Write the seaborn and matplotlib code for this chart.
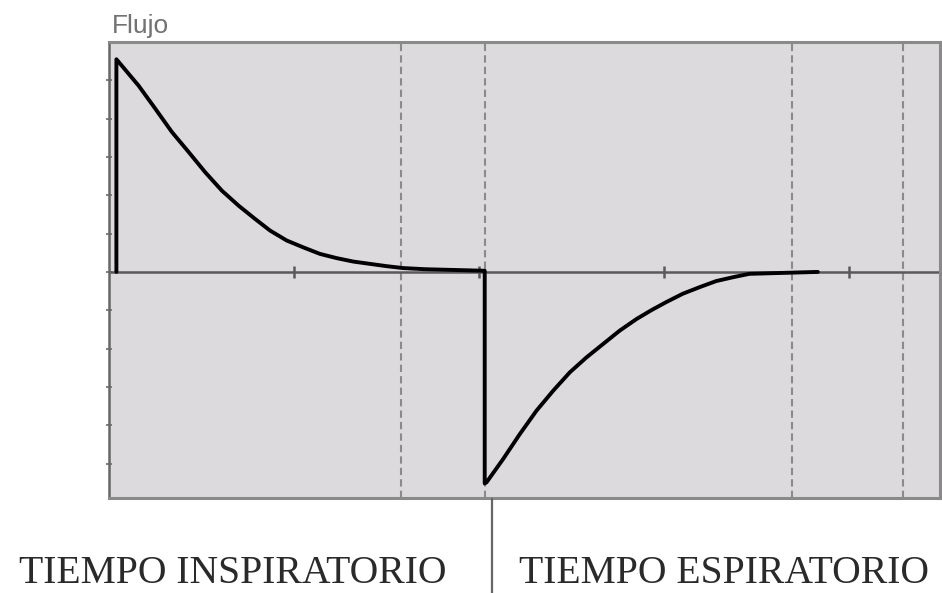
import matplotlib.pyplot as plt
import seaborn as sns
import pandas as pd
from matplotlib.lines import Line2D

# Curva de flujo (tiempo y flujo en unidades de la cuadrícula)
tiempo = [0.04, 0.04, 0.16, 0.25, 0.34, 0.43, 0.52, 0.61, 0.70, 0.79, 0.87, 0.96,
          1.05, 1.14, 1.23, 1.32, 1.41, 1.50, 1.59, 1.71, 2.03,
          2.03, 2.04, 2.13, 2.22, 2.31, 2.40, 2.49, 2.58, 2.67, 2.76, 2.85, 2.93,
          3.01, 3.10, 3.19, 3.28, 3.37, 3.46, 3.83]
flujo = [0.0, 5.55, 4.86, 4.26, 3.65, 3.13, 2.60, 2.12, 1.73, 1.38, 1.08, 0.82,
         0.64, 0.47, 0.36, 0.27, 0.21, 0.15, 0.10, 0.07, 0.03,
         -5.52, -5.49, -4.88, -4.23, -3.62, -3.10, -2.62, -2.23, -1.88, -1.53, -1.23, -1.00,
         -0.79, -0.57, -0.40, -0.24, -0.14, -0.05, 0.0]

lineas_guia = [1.58, 2.03, 3.69, 4.29]
marcas_x = [1, 2, 3, 4]
marcas_y = [-5, -4, -3, -2, -1, 0, 1, 2, 3, 4, 5]

df = pd.DataFrame({"tiempo": tiempo, "flujo": flujo})

sns.set_style("white")
fig = plt.figure(figsize=(9.42, 5.93), dpi=100)
ax = fig.add_axes([109 / 942, 1 - 498 / 593, 831 / 942, 456 / 593])
ax.set_facecolor("#dcdadd")

for x in lineas_guia:
    ax.axvline(x, color="#8a8a8a", lw=1.5, dashes=(3.5, 2))
ax.axhline(0, color="#5a5a5a", lw=1.8, zorder=2)
ax.plot(marcas_x, [0] * len(marcas_x), ls="none", marker="|", ms=9, mew=1.8,
        color="#5a5a5a", zorder=2)

sns.lineplot(data=df, x="tiempo", y="flujo", sort=False, estimator=None,
             color="black", lw=2.8, ax=ax, zorder=3,
             solid_joinstyle="round", solid_capstyle="round")

ax.set_xlim(0, 4.49)
ax.set_ylim(-5.9, 6.0)
ax.set_xticks([])
ax.set_yticks(marcas_y)
ax.tick_params(axis="y", direction="inout", length=4.5, width=1.3, color="#777777",
               labelleft=False, left=True)
ax.set_xlabel("")
ax.set_ylabel("")
for lado in ["top", "right", "bottom"]:
    ax.spines[lado].set_color("#8a8a8a")
    ax.spines[lado].set_linewidth(2.2)
ax.spines["left"].set_color("#666666")
ax.spines["left"].set_linewidth(1.8)

fig.text(112 / 942, 1 - 33 / 593, "Flujo", family="Liberation Sans", fontsize=19,
         color="#727272", ha="left", va="baseline")

fig.text(233 / 942, 1 - 583 / 593, "TIEMPO INSPIRATORIO", family="Liberation Serif",
         fontsize=28.5, color="#2a2a2a", ha="center", va="baseline")
fig.text(724 / 942, 1 - 583 / 593, "TIEMPO ESPIRATORIO", family="Liberation Serif",
         fontsize=28.5, color="#2a2a2a", ha="center", va="baseline")
fig.add_artist(Line2D([492 / 942, 492 / 942], [1 - 499 / 593, 0], color="#666666", lw=1.6))

fig.savefig("out.png", dpi=100)
